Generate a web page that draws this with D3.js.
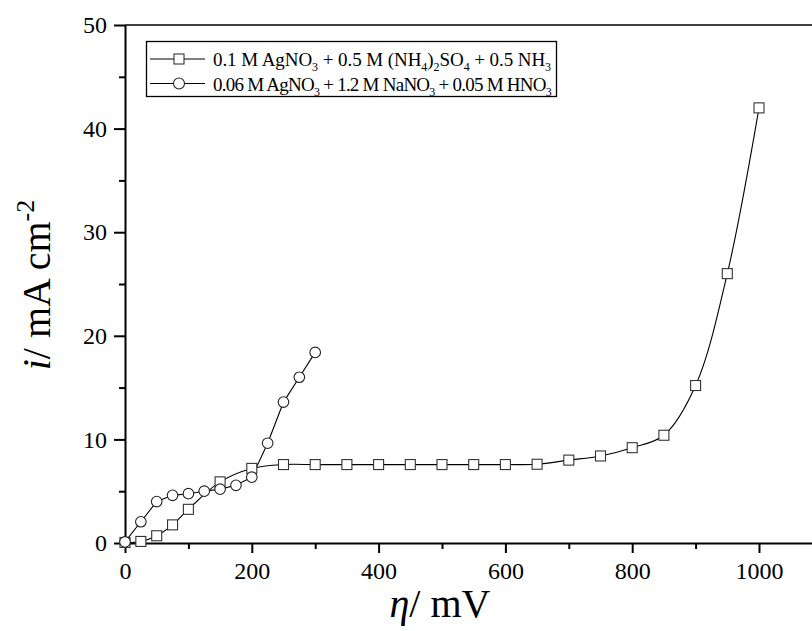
<!DOCTYPE html>
<html>
<head>
<meta charset="utf-8">
<script src="https://cdn.jsdelivr.net/npm/d3@7"></script>
<style>
  html, body { margin: 0; padding: 0; background: #fff; }
  svg { display: block; font-family: "Liberation Serif", "Times New Roman", serif; }
</style>
</head>
<body>
<svg id="chart" width="812" height="631"></svg>
<script>
// Overpotential (mV) and current density (mA cm^-2) for the two silver baths
const etaAmmonia = [0, 25, 50, 75, 100, 150, 200, 250, 300, 350, 400, 450, 500, 550, 600, 650, 700, 750, 800, 850, 900, 950, 1000];
const iAmmonia   = [0.05, 0.15, 0.7, 1.75, 3.25, 5.9, 7.2, 7.57, 7.57, 7.57, 7.57, 7.57, 7.57, 7.57, 7.57, 7.6, 8.0, 8.4, 9.2, 10.4, 15.2, 26.0, 42.0];

const etaNitrate = [0, 25, 50, 75, 100, 125, 150, 175, 200, 225, 250, 275, 300];
const iNitrate   = [0.1, 2.05, 4.0, 4.6, 4.76, 5.0, 5.2, 5.57, 6.35, 9.63, 13.6, 16.0, 18.4];

const xMajorTicks = [0, 200, 400, 600, 800, 1000];
const xMinorTicks = [100, 300, 500, 700, 900, 1100];
const yMajorTicks = [0, 10, 20, 30, 40, 50];
const yMinorTicks = [5, 15, 25, 35, 45];

const serif = "'Liberation Serif', 'Times New Roman', serif";
const svg = d3.select("#chart");

const x = d3.scaleLinear().domain([0, 1100]).range([125, 822.4]);
const y = d3.scaleLinear().domain([0, 50]).range([543, 25]);

// frame line along the top
svg.append("line")
  .attr("x1", x(0)).attr("x2", 812)
  .attr("y1", y(50)).attr("y2", y(50))
  .attr("stroke", "#000").attr("stroke-width", 1.5);

// x axis: labelled major ticks plus unlabelled minor ticks
const xAxis = svg.append("g").attr("transform", `translate(0,${y(0)})`);
xAxis.call(d3.axisBottom(x).tickValues(xMajorTicks).tickSize(10).tickSizeOuter(0).tickPadding(9).tickFormat(d3.format("d")));
xAxis.append("g").call(d3.axisBottom(x).tickValues(xMinorTicks).tickSize(6).tickFormat(""))
  .select(".domain").remove();

const yAxis = svg.append("g").attr("transform", `translate(${x(0)},0)`);
yAxis.call(d3.axisLeft(y).tickValues(yMajorTicks).tickSize(11).tickSizeOuter(0).tickPadding(7).tickFormat(d3.format("d")));
yAxis.append("g").call(d3.axisLeft(y).tickValues(yMinorTicks).tickSize(6).tickFormat(""))
  .select(".domain").remove();

svg.selectAll(".domain").attr("stroke", "#000").attr("stroke-width", 2);
svg.selectAll(".tick line").attr("stroke", "#000").attr("stroke-width", 2);
svg.selectAll(".tick text")
  .attr("fill", "#000")
  .attr("font-family", serif)
  .style("font-family", serif)
  .style("font-size", "24px");

// curves
const smooth = d3.line().x(d => x(d[0])).y(d => y(d[1])).curve(d3.curveCatmullRom.alpha(0.5));
const straight = d3.line().x(d => x(d[0])).y(d => y(d[1]));

const ammonia = etaAmmonia.map((e, k) => [e, iAmmonia[k]]);
const nitrate = etaNitrate.map((e, k) => [e, iNitrate[k]]);

svg.append("path").datum(ammonia).attr("d", smooth)
  .attr("fill", "none").attr("stroke", "#000").attr("stroke-width", 1.1);
svg.append("path").datum(nitrate).attr("d", straight)
  .attr("fill", "none").attr("stroke", "#000").attr("stroke-width", 1.1);

const sq = 10;
svg.append("g").selectAll("rect").data(ammonia).join("rect")
  .attr("x", d => x(d[0]) - sq / 2).attr("y", d => y(d[1]) - sq / 2)
  .attr("width", sq).attr("height", sq)
  .attr("fill", "#fff").attr("stroke", "#333").attr("stroke-width", 1.1);

svg.append("g").selectAll("circle").data(nitrate).join("circle")
  .attr("cx", d => x(d[0])).attr("cy", d => y(d[1])).attr("r", 5.3)
  .attr("fill", "#fff").attr("stroke", "#222").attr("stroke-width", 1.1);

// legend
const legend = svg.append("g");
legend.append("rect").attr("x", 146.5).attr("y", 41.5).attr("width", 410).attr("height", 55)
  .attr("fill", "#fff").attr("stroke", "#000").attr("stroke-width", 1.3);

const legendRows = [
  { shape: "square", y: 59, parts: [["0.1 M AgNO"], ["3", "sub"], [" + 0.5 M (NH"], ["4", "sub"], [")"], ["2", "sub"], ["SO"], ["4", "sub"], [" + 0.5 NH"], ["3", "sub"]] },
  { shape: "circle", y: 83.5, parts: [["0.06 M AgNO"], ["3", "sub"], [" + 1.2 M NaNO"], ["3", "sub"], [" + 0.05 M HNO"], ["3", "sub"]] }
];
const legendTextWidth = 338;
const subDrop = 5;

legendRows.forEach(row => {
  legend.append("line").attr("x1", 150).attr("x2", 205).attr("y1", row.y).attr("y2", row.y)
    .attr("stroke", "#000").attr("stroke-width", 1.1);
  if (row.shape === "square") {
    legend.append("rect").attr("x", 179 - sq / 2).attr("y", row.y - sq / 2).attr("width", sq).attr("height", sq)
      .attr("fill", "#fff").attr("stroke", "#333").attr("stroke-width", 1.1);
  } else {
    legend.append("circle").attr("cx", 179).attr("cy", row.y).attr("r", 5.5)
      .attr("fill", "#fff").attr("stroke", "#222").attr("stroke-width", 1.1);
  }
  const t = legend.append("text").attr("x", 213).attr("y", row.y + 7)
    .style("font-size", "19px").attr("fill", "#000");
  let shifted = false;
  let nChars = 0;
  row.parts.forEach(([s, kind]) => {
    nChars += s.length;
    const ts = t.append("tspan").text(s);
    if (kind === "sub") {
      ts.attr("dy", shifted ? 0 : subDrop).style("font-size", "12px");
      shifted = true;
    } else {
      if (shifted) ts.attr("dy", -subDrop);
      shifted = false;
    }
  });
  // even out the two rows so both end just inside the box
  const natural = t.node().getComputedTextLength();
  t.style("letter-spacing", `${(legendTextWidth - natural) / nChars}px`);
});

// axis titles
const xTitle = svg.append("text").attr("x", 440).attr("y", 617)
  .attr("text-anchor", "middle").style("font-size", "40px").attr("fill", "#000");
xTitle.append("tspan").style("font-style", "italic").text("η");
xTitle.append("tspan").text("/ mV");

const yTitle = svg.append("text")
  .attr("transform", `translate(50,285) rotate(-90)`)
  .attr("text-anchor", "middle").style("font-size", "40px").attr("fill", "#000");
yTitle.append("tspan").style("font-style", "italic").text("i");
yTitle.append("tspan").text("/ mA cm");
yTitle.append("tspan").attr("dy", -16).style("font-size", "26px").text("-2");
</script>
</body>
</html>
